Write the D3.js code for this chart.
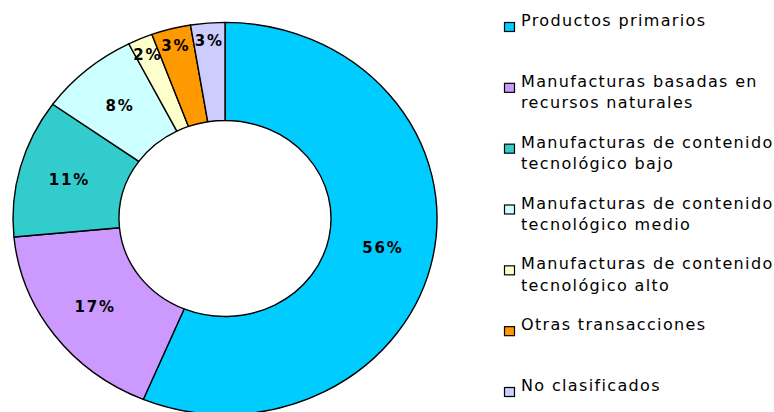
<!DOCTYPE html>
<html>
<head>
<meta charset="utf-8">
<script src="https://cdn.jsdelivr.net/npm/d3@7"></script>
<style>
  body { margin: 0; background: #fff; }
  svg { display: block; }
</style>
</head>
<body>
<svg id="chart" width="774" height="412"></svg>
<script>
// Categories, shares (%), rounded labels and fills
const categories = [
    "Productos primarios",
    "Manufacturas basadas en recursos naturales",
    "Manufacturas de contenido tecnológico bajo",
    "Manufacturas de contenido tecnológico medio",
    "Manufacturas de contenido tecnológico alto",
    "Otras transacciones",
    "No clasificados"
];
const shares = [56.3, 17.2, 11.4, 7.6, 1.9, 3.0, 2.6];
const shareLabels = ["56%", "17%", "11%", "8%", "2%", "3%", "3%"];
const colors = ["#00CCFF", "#CC99FF", "#33CCCC", "#CCFFFF", "#FFFFCC", "#FF9900", "#CCCCFF"];

// Legend lines (wrapped like in the reference)
const legendLines = [
    ["Productos primarios"],
    ["Manufacturas basadas en", "recursos naturales"],
    ["Manufacturas de contenido", "tecnológico bajo"],
    ["Manufacturas de contenido", "tecnológico medio"],
    ["Manufacturas de contenido", "tecnológico alto"],
    ["Otras transacciones"],
    ["No clasificados"]
];

const svg = d3.select("#chart");

const cx = 225, cy = 218.5;
const outerR = 212, innerR = 106;
const squash = 0.925; // the donut is slightly flattened vertically

const total = d3.sum(shares);
const pie = d3.pie().sort(null).value(d => d);
const arcs = pie(shares);

const arc = d3.arc().innerRadius(innerR).outerRadius(outerR);

const donut = svg.append("g")
    .attr("transform", `translate(${cx},${cy}) scale(1,${squash})`);

donut.selectAll("path")
    .data(arcs)
    .enter()
    .append("path")
    .attr("d", arc)
    .attr("fill", (d, i) => colors[i])
    .attr("stroke", "#000")
    .attr("stroke-width", 1.4)
    .attr("stroke-linejoin", "round")
    .attr("vector-effect", "non-scaling-stroke");

// Percentage labels: small slices sit closer to the outer rim
function labelPos(d) {
    const a = (d.startAngle + d.endAngle) / 2;
    const r = outerR * (d.data / total >= 0.05 ? 0.76 : 0.91);
    return [r * Math.sin(a), -r * Math.cos(a) * squash];
}

const labelGroup = svg.append("g").attr("transform", `translate(${cx},${cy})`);
labelGroup.selectAll("text")
    .data(arcs)
    .enter()
    .append("text")
    .attr("x", d => labelPos(d)[0])
    .attr("y", d => labelPos(d)[1])
    .attr("dy", "0.36em")
    .attr("text-anchor", "middle")
    .attr("font-family", "DejaVu Sans, Verdana, sans-serif")
    .attr("font-weight", "bold")
    .attr("font-size", 15)
    .attr("letter-spacing", 1.8)
    .attr("fill", "#000")
    .text((d, i) => shareLabels[i]);

// Legend
const legendY = d3.scaleLinear().domain([0, categories.length - 1]).range([26, 391]);

const legend = svg.append("g");
const items = legend.selectAll("g")
    .data(categories)
    .enter()
    .append("g")
    .attr("transform", (d, i) => `translate(0,${legendY(i)})`);

items.append("rect")
    .attr("x", 504.5)
    .attr("y", -3.5)
    .attr("width", 10)
    .attr("height", 9)
    .attr("fill", (d, i) => colors[i])
    .attr("stroke", "#000")
    .attr("stroke-width", 1.2);

items.append("text")
    .attr("x", 521)
    .attr("font-family", "DejaVu Sans, Verdana, sans-serif")
    .attr("font-size", 16)
    .attr("letter-spacing", 1.35)
    .attr("fill", "#000")
    .selectAll("tspan")
    .data((d, i) => legendLines[i])
    .enter()
    .append("tspan")
    .attr("x", 521)
    .attr("dy", (d, j) => j === 0 ? 0 : 21.5)
    .text(d => d);
</script>
</body>
</html>
